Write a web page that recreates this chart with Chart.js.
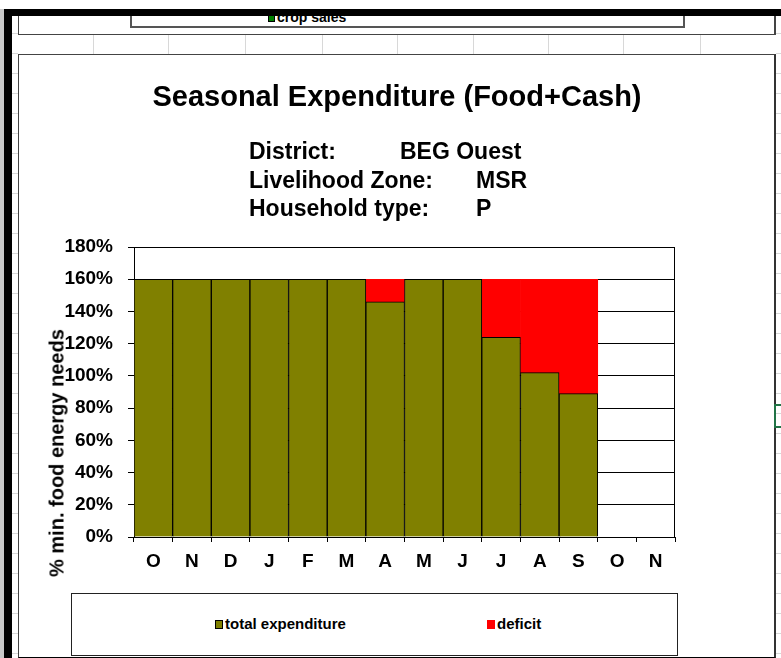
<!DOCTYPE html>
<html>
<head>
<meta charset="utf-8">
<script src="https://cdn.jsdelivr.net/npm/chart.js@4.4.1/dist/chart.umd.min.js"></script>
<style>
  body { margin: 0; background: #fff; }
  #page {
    position: relative; width: 781px; height: 658px; overflow: hidden; background: #fff;
    font-family: "Liberation Sans", Arial, sans-serif; color: #000;
  }
  .abs { position: absolute; box-sizing: border-box; }
  .rowlines {
    background: repeating-linear-gradient(to bottom, transparent 0, transparent 19px, #d8d8d8 19px, #d8d8d8 20px);
  }
  .narrow { font-family: "Liberation Sans Narrow", "Arial Narrow", "Liberation Sans", Arial, sans-serif; font-weight: bold; }
  .hdr { font-weight: bold; font-size: 23px; white-space: nowrap; line-height: 26px; }
</style>
</head>
<body>
<div id="page">
  <!-- spreadsheet bits around the chart -->
  <div class="abs rowlines" style="left:12px;top:14px;width:6px;height:644px;"></div>
  <div class="abs rowlines" style="left:776px;top:14px;width:5px;height:644px;"></div>
  <div class="abs" id="gridrow" style="left:18px;top:34px;width:757px;height:20px;"></div>

  <!-- bottom of the previous chart -->
  <div class="abs" style="left:18px;top:16px;width:758px;height:19px;border:1px solid #444;border-top:none;border-right-width:2px;"></div>
  <div class="abs" style="left:130px;top:16px;width:555px;height:12px;border:2px solid #555;border-top:none;"></div>
  <div class="abs" style="left:268px;top:14px;width:7px;height:8px;background:#008000;border:1px solid #000;"></div>
  <div class="abs narrow" style="left:277px;top:10px;font-size:14px;line-height:14px;">crop sales</div>

  <!-- window frame -->
  <div class="abs" style="left:0;top:9px;width:4px;height:649px;background:#c8c8c8;"></div>
  <div class="abs" style="left:4px;top:9px;width:777px;height:7px;background:#000;"></div>
  <div class="abs" style="left:4px;top:9px;width:8px;height:649px;background:#000;"></div>

  <!-- chart frame -->
  <div class="abs" style="left:18px;top:54px;width:758px;height:604px;border-left:1px solid #444;border-top:1px solid #444;border-right:2px solid #333;border-bottom:1px solid #000;"></div>
  <div class="abs" style="left:774px;top:404px;width:10px;height:24px;border:2px solid #217346;"></div>

  <canvas id="chart" class="abs" width="756" height="601" style="left:19px;top:55px;"></canvas>

  <div class="abs" style="left:19px;top:80px;width:756px;text-align:center;font-weight:bold;font-size:29px;line-height:32px;">Seasonal Expenditure (Food+Cash)</div>
  <div class="abs hdr" style="left:249px;top:138px;">District:</div>
  <div class="abs hdr" style="left:400px;top:138px;">BEG Ouest</div>
  <div class="abs hdr" style="left:249px;top:167px;">Livelihood Zone:</div>
  <div class="abs hdr" style="left:476px;top:167px;">MSR</div>
  <div class="abs hdr" style="left:249px;top:195px;">Household type:</div>
  <div class="abs hdr" style="left:476px;top:195px;">P</div>

  <div class="abs" style="left:57px;top:453px;transform:translate(-50%,-50%) rotate(-90deg);font-weight:bold;font-size:20px;white-space:nowrap;">% min. food energy needs</div>

  <div class="abs" id="legend" style="left:71px;top:593px;width:607px;height:63px;border:1px solid #222;background:#fff;"></div>
</div>

<script>
const months = ["O", "N", "D", "J", "F", "M", "A", "M", "J", "J", "A", "S", "O", "N"];
const totalExpenditure = [160, 160, 160, 160, 160, 160, 146, 160, 160, 124, 102, 89, null, null];
const deficit = [0, 0, 0, 0, 0, 0, 14, 0, 0, 36, 58, 71, null, null];
const yTicks = [0, 20, 40, 60, 80, 100, 120, 140, 160, 180];

const seriesNames = ["total expenditure", "deficit"];
const seriesColors = ["#808000", "#ff0000"];

// faint column lines of the sheet between the two charts
const gridRow = document.getElementById("gridrow");
[93, 168, 245, 322, 397, 473, 548, 623, 700].forEach(x => {
    const d = document.createElement("div");
    d.className = "abs";
    d.style.cssText = `left:${x - 18}px;top:0;width:1px;height:20px;background:#d8d8d8;`;
    gridRow.appendChild(d);
});

// legend
const legend = document.getElementById("legend");
const legendX = [143, 415];
seriesNames.forEach((name, i) => {
    const sq = document.createElement("div");
    sq.className = "abs";
    sq.style.cssText = `left:${legendX[i]}px;top:26px;width:8px;height:9px;background:${seriesColors[i]};` +
        (i === 0 ? "border:1px solid #000;" : "");
    legend.appendChild(sq);
    const t = document.createElement("div");
    t.className = "abs narrow";
    t.style.cssText = `left:${legendX[i] + 10}px;top:21px;font-size:15px;line-height:18px;white-space:nowrap;`;
    t.textContent = name;
    legend.appendChild(t);
});

const frameRight = {
    id: "frameRight",
    afterDraw(chart) {
        const { ctx, chartArea } = chart;
        ctx.save();
        ctx.strokeStyle = "#000";
        ctx.lineWidth = 1;
        ctx.beginPath();
        ctx.moveTo(chartArea.right - 0.5, chartArea.top);
        ctx.lineTo(chartArea.right - 0.5, chartArea.bottom);
        ctx.stroke();
        ctx.restore();
    }
};

const tickFont = { family: "'Liberation Sans', Arial, sans-serif", size: 19, weight: "bold" };

new Chart(document.getElementById("chart"), {
    type: "bar",
    data: {
        labels: months,
        datasets: [{
            label: seriesNames[0],
            data: totalExpenditure,
            backgroundColor: seriesColors[0],
            borderColor: "#000",
            borderWidth: 1,
            barPercentage: 1,
            categoryPercentage: 1
        }, {
            label: seriesNames[1],
            data: deficit,
            backgroundColor: seriesColors[1],
            borderWidth: 0,
            barPercentage: 1,
            categoryPercentage: 1
        }]
    },
    options: {
        responsive: false,
        animation: false,
        devicePixelRatio: 1,
        layout: { padding: { top: 192, left: 0, right: 100, bottom: 79 } },
        plugins: {
            legend: { display: false },
            tooltip: { enabled: false }
        },
        scales: {
            x: {
                stacked: true,
                grid: { drawOnChartArea: false, color: "#000", tickLength: 5 },
                border: { color: "#000" },
                ticks: { color: "#000", font: tickFont, padding: 8, maxRotation: 0, autoSkip: false },
                afterFit: s => { s.height = 40; }
            },
            y: {
                stacked: true,
                min: 0,
                max: 180,
                afterBuildTicks: s => { s.ticks = yTicks.map(v => ({ value: v })); },
                grid: { color: "#000", lineWidth: 1, tickLength: 6 },
                border: { color: "#000" },
                ticks: { color: "#000", font: tickFont, padding: 15, callback: v => v + "%" },
                afterFit: s => { s.width = 115; }
            }
        }
    },
    plugins: [frameRight]
});
</script>
</body>
</html>
